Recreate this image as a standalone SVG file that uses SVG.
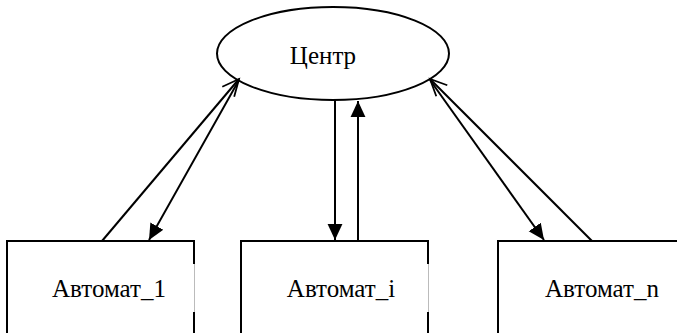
<svg xmlns="http://www.w3.org/2000/svg" width="677" height="333" viewBox="0 0 677 333">
<style>
.ln{stroke:#000;stroke-width:2;fill:none}
.gap{stroke:#bbb;stroke-width:1;fill:none}
.t{font-family:'Liberation Serif','DejaVu Serif',serif;font-size:25px;fill:#000;text-anchor:middle}
</style>
<defs>
<marker id="fill" markerUnits="userSpaceOnUse" markerWidth="16" markerHeight="16" viewBox="0 0 14 14" refX="14" refY="7" orient="auto">
<path d="M0,0.5 L14,7 L0,13.5 z" fill="#000"/>
</marker>
<marker id="open" markerUnits="userSpaceOnUse" markerWidth="20" markerHeight="20" viewBox="-1 -9 18 18" refX="15" refY="0" orient="auto">
<path d="M0,-7 L15,0 L0,7" fill="none" stroke="#000" stroke-width="1.6"/>
</marker>
</defs>
<rect width="677" height="333" fill="#fff"/>
<g id="center">
<ellipse class="ln" cx="333" cy="53.5" rx="116" ry="46.5"/>
<text class="t" x="323" y="64">Центр</text>
</g>
<g id="automat_1">
<path class="ln" d="M7,333 V241 H194 V264 M194,312 V333"/>
<path class="gap" d="M194.5,264 V312"/>
<text class="t" x="109" y="297">Автомат_1</text>
</g>
<g id="automat_i">
<path class="ln" d="M241,333 V241 H428 V264 M428,312 V333"/>
<path class="gap" d="M428.5,264 V312"/>
<text class="t" x="341" y="297">Автомат_i</text>
</g>
<g id="automat_n">
<path class="ln" d="M498,333 V241 H677"/>
<text class="t" x="602" y="297">Автомат_n</text>
</g>
<g id="connectors">
<line class="ln" x1="102" y1="241" x2="239" y2="79" marker-end="url(#open)"/>
<line class="ln" x1="239" y1="80" x2="149" y2="240" marker-end="url(#fill)"/>
<line class="ln" x1="335" y1="100" x2="335" y2="240" marker-end="url(#fill)"/>
<line class="ln" x1="358" y1="241" x2="358" y2="101" marker-end="url(#fill)"/>
<line class="ln" x1="592" y1="241" x2="430" y2="79" marker-end="url(#open)"/>
<line class="ln" x1="430" y1="80" x2="544" y2="240" marker-end="url(#fill)"/>
</g>
</svg>
